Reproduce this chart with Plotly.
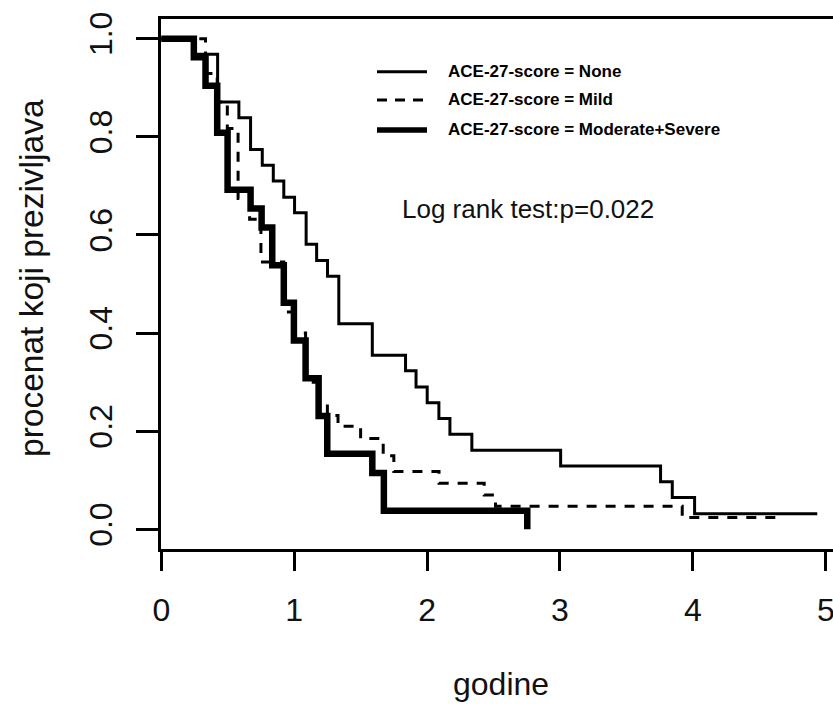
import plotly.graph_objects as go

# ---- data ----
none_t = [0, 0.245, 0.424, 0.584, 0.672, 0.760, 0.843, 0.922, 1.003, 1.09, 1.169, 1.251,
          1.336, 1.588, 1.838, 1.917, 2.001, 2.089, 2.172, 2.337, 3.005, 3.757, 3.845, 4.013, 4.936]
none_s = [1, 0.968, 0.871, 0.839, 0.774, 0.742, 0.710, 0.677, 0.645, 0.581, 0.548, 0.516,
          0.419, 0.355, 0.323, 0.290, 0.258, 0.226, 0.194, 0.161, 0.129, 0.097, 0.065, 0.032, 0.032]

mild_t = [0, 0.333, 0.421, 0.497, 0.578, 0.665, 0.75, 0.922, 1.0, 1.086, 1.19, 1.25, 1.33,
          1.50, 1.67, 1.75, 2.09, 2.43, 2.515, 3.92, 4.685]
mild_s = [1, 0.929, 0.871, 0.817, 0.674, 0.632, 0.545, 0.443, 0.40, 0.30, 0.257, 0.232, 0.21,
          0.185, 0.15, 0.118, 0.094, 0.07, 0.047, 0.024, 0.024]

mod_t = [0, 0.245, 0.333, 0.421, 0.499, 0.672, 0.755, 0.835, 0.922, 0.998, 1.086, 1.184,
         1.249, 1.588, 1.675, 2.754]
mod_s = [1, 0.962, 0.904, 0.808, 0.692, 0.654, 0.615, 0.538, 0.462, 0.385, 0.308, 0.231,
         0.154, 0.115, 0.038, 0.0]

series_names = ["ACE-27-score = None", "ACE-27-score = Mild", "ACE-27-score = Moderate+Severe"]
x_ticks = [0, 1, 2, 3, 4, 5]
y_ticks = [0.0, 0.2, 0.4, 0.6, 0.8, 1.0]
y_ticktext = ["0.0", "0.2", "0.4", "0.6", "0.8", "1.0"]
x_title = "godine"
y_title = "procenat koji prezivljava"
test_text = "Log rank test:p=0.022"

# ---- layout geometry ----
W, H = 833, 704
ML, MR, MT, MB = 161, 0, 19, 155
PW, PH = W - ML - MR, H - MT - MB
X_UNIT = 132.9
XR = [-0.002, -0.002 + PW / X_UNIT]
YR = [-0.04, 1.04]

def px(x):   # pixel -> paper x
    return (x - ML) / PW

def py(y):   # pixel -> paper y
    return (H - MB - y) / PH

FONT = "Liberation Sans, Arial, sans-serif"

fig = go.Figure()
styles = [dict(color="black", width=3),
          dict(color="black", width=3, dash="10px,9px"),
          dict(color="black", width=6.5)]
for name, t, s, st in zip(series_names, [none_t, mild_t, mod_t], [none_s, mild_s, mod_s], styles):
    fig.add_trace(go.Scatter(x=t, y=s, mode="lines", name=name, line=dict(shape="hv", **st),
                             showlegend=False))

# manual legend
leg_rows = [71.7, 100, 130]
leg_styles = [dict(color="black", width=3),
              dict(color="black", width=3, dash="10px,8px"),
              dict(color="black", width=5.5)]
for name, yy, st in zip(series_names, leg_rows, leg_styles):
    fig.add_shape(type="line", xref="paper", yref="paper", x0=px(377), x1=px(427),
                  y0=py(yy), y1=py(yy), line=st)
    fig.add_annotation(xref="paper", yref="paper", x=px(446), y=py(yy), text="<b>%s</b>" % name,
                       showarrow=False, xanchor="left", yanchor="middle",
                       font=dict(family=FONT, size=17, color="black"))

fig.add_annotation(xref="paper", yref="paper", x=px(528), y=py(209), text=test_text,
                   showarrow=False, xanchor="center", yanchor="middle",
                   font=dict(family=FONT, size=26, color="#111"))

# axis titles
fig.add_annotation(xref="paper", yref="paper", x=px(501), y=py(684), text=x_title,
                   showarrow=False, xanchor="center", yanchor="middle",
                   font=dict(family=FONT, size=32, color="#111"))
fig.add_annotation(xref="paper", yref="paper", x=px(31), y=py(278), text=y_title, textangle=-90,
                   showarrow=False, xanchor="center", yanchor="middle",
                   font=dict(family=FONT, size=33.5, color="#111"))

fig.update_layout(
    width=W, height=H, margin=dict(l=ML, r=MR, t=MT, b=MB, pad=0, autoexpand=False),
    plot_bgcolor="white", paper_bgcolor="white", showlegend=False,
    font=dict(family=FONT, color="#111"),
    xaxis=dict(range=XR, tickvals=x_ticks, ticks="outside", ticklen=19, tickwidth=3,
               tickcolor="black", showline=True, linecolor="black", linewidth=3, mirror=True,
               showgrid=False, zeroline=False, tickfont=dict(size=32, family=FONT, color="#111"),
               ticklabelstandoff=12, automargin=False, ticklabeloverflow="allow"),
    yaxis=dict(range=YR, tickvals=y_ticks, ticktext=y_ticktext, ticks="outside", ticklen=22,
               tickwidth=3, tickcolor="black", showline=True, linecolor="black", linewidth=3,
               mirror=False, showgrid=False, zeroline=False, tickangle=-90,
               tickfont=dict(size=32, family=FONT, color="#111"), ticklabelstandoff=11,
               automargin=False),
)

fig.write_html("out.html", config={"displayModeBar": False},
               post_script="document.body.style.margin='0';document.body.style.overflow='hidden';")
